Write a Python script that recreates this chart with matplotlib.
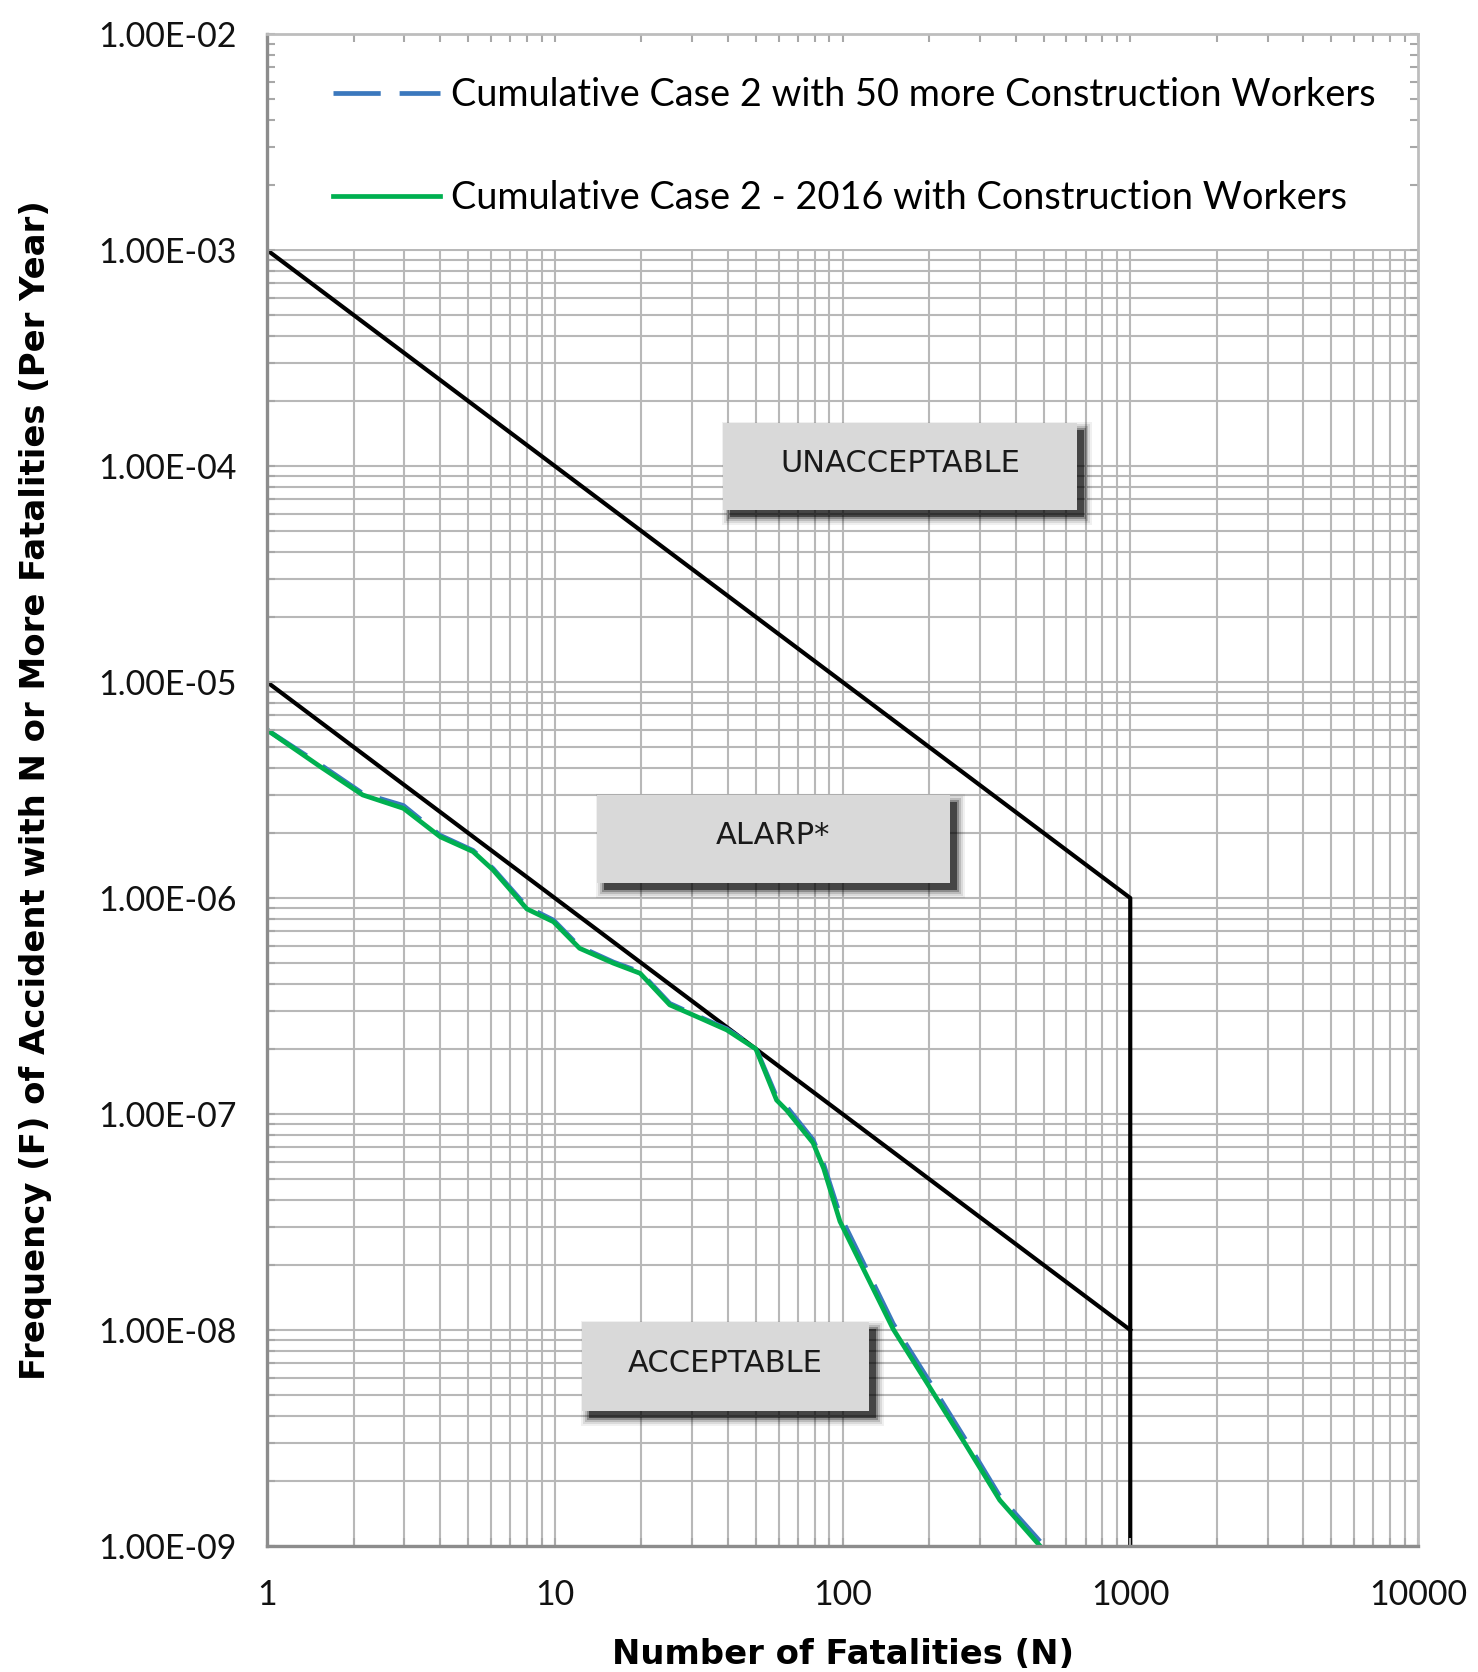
import matplotlib.pyplot as plt
from matplotlib.patches import Rectangle
from matplotlib.ticker import FuncFormatter, LogLocator, NullFormatter

# F-N curve data
n_case = [1, 1.53, 2.15, 2.98, 4.0, 5.2, 6.1, 8.0, 9.9, 12.2, 16, 19.8, 25.1, 30.3,
          39.6, 50, 59, 64, 79, 86, 98, 121, 150, 207, 270, 352, 486]
f_2016 = [6.0e-6, 4.06e-6, 3.0e-6, 2.6e-6, 1.92e-6, 1.64e-6, 1.35e-6, 8.9e-7, 7.76e-7,
          5.85e-7, 4.99e-7, 4.48e-7, 3.2e-7, 2.87e-7, 2.45e-7, 2.0e-7, 1.16e-7, 1.04e-7,
          7.35e-8, 5.6e-8, 3.18e-8, 1.80e-8, 1.01e-8, 5.1e-9, 2.9e-9, 1.63e-9, 1.0e-9]
f_50more = [6.0e-6, 4.15e-6, 3.05e-6, 2.68e-6, 1.95e-6, 1.66e-6, 1.37e-6, 9.1e-7, 7.9e-7,
            5.95e-7, 5.05e-7, 4.55e-7, 3.25e-7, 2.9e-7, 2.48e-7, 2.02e-7, 1.2e-7, 1.08e-7,
            7.6e-8, 5.85e-8, 3.4e-8, 1.92e-8, 1.07e-8, 5.4e-9, 3.05e-9, 1.7e-9, 1.05e-9]

# criteria lines
upper_n = [1, 1000, 1000]
upper_f = [1e-3, 1e-6, 1e-9]
lower_n = [1, 1000]
lower_f = [1e-5, 1e-8]

region_labels = ['UNACCEPTABLE', 'ALARP*', 'ACCEPTABLE']
x_ticks = [1, 10, 100, 1000, 10000]
y_ticks = [1e-9, 1e-8, 1e-7, 1e-6, 1e-5, 1e-4, 1e-3, 1e-2]

fig = plt.figure(figsize=(14.78, 16.72), dpi=100)
rect = [267 / 1478, 1 - 1546 / 1672, 1151 / 1478, 1512 / 1672]
ax = fig.add_axes(rect)
ax.set_xscale('log')
ax.set_yscale('log')
ax.set_xlim(1, 1e4)
ax.set_ylim(1e-9, 1e-2)
ax.set_axisbelow(True)
ax.grid(which='both', color='#b8b8b8', lw=1.5)
ax.xaxis.set_major_locator(LogLocator(base=10, numticks=20))
ax.xaxis.set_minor_locator(LogLocator(base=10, subs=range(2, 10), numticks=100))
ax.yaxis.set_major_locator(LogLocator(base=10, numticks=20))
ax.yaxis.set_minor_locator(LogLocator(base=10, subs=range(2, 10), numticks=100))
ax.set_xticks(x_ticks)
ax.set_yticks(y_ticks)
ax.xaxis.set_major_formatter(FuncFormatter(lambda v, p: f'{int(round(v))}'))
ax.yaxis.set_major_formatter(FuncFormatter(lambda v, p: f'{v:.2E}'))
ax.xaxis.set_minor_formatter(NullFormatter())
ax.yaxis.set_minor_formatter(NullFormatter())
ax.tick_params(which='both', length=0)
ax.tick_params(axis='y', pad=22, labelsize=24.5, labelcolor='#111111')
ax.tick_params(axis='x', pad=24, labelsize=24.5, labelcolor='#111111')
for lab in ax.get_xticklabels() + ax.get_yticklabels():
    lab.set_family('Lato')
for s in ax.spines.values():
    s.set_visible(False)

ax.set_xlabel('Number of Fatalities (N)', fontsize=24.4, fontweight='bold',
              family='DejaVu Sans', labelpad=19)
ax.set_ylabel('Frequency (F) of Accident with N or More Fatalities (Per Year)',
              fontsize=24.4, fontweight='bold', family='DejaVu Sans', labelpad=33)

# white legend area at the top
ax.add_patch(Rectangle((0, 0.858), 1, 0.142, transform=ax.transAxes,
                       facecolor='white', edgecolor='none', zorder=1))

ax.plot(upper_n, upper_f, color='black', lw=3.0, zorder=3)
ax.plot(lower_n, lower_f, color='black', lw=3.0, zorder=3)
blue, = ax.plot(n_case, f_50more, color='#3b78bd', lw=3.4, dashes=(10, 4), zorder=4,
                label='Cumulative Case 2 with 50 more Construction Workers')
green, = ax.plot(n_case, f_2016, color='#00b050', lw=3.4, zorder=5,
                 label='Cumulative Case 2 - 2016 with Construction Workers')

leg = ax.legend(handles=[blue, green], loc='center left', bbox_to_anchor=(0.0577, 0.9255),
                frameon=False, prop={'family': 'Lato', 'size': 27.3},
                handlelength=2.8, handletextpad=0.3, labelspacing=1.77,
                borderpad=0, borderaxespad=0)
leg.set_zorder(6)

# region boxes with drop shadows (axes fractions)
boxes = [(0.396, 0.685, 0.308, 0.058),
         (0.287, 0.4385, 0.306, 0.0585),
         (0.274, 0.0893, 0.249, 0.0589)]
pxw, pxh = 1151.0, 1512.0
for (x0, y0, w, h), txt in zip(boxes, region_labels):
    ox, oy = 7 / pxw, 7 / pxh
    for k, a in [(8, 0.06), (6, 0.09), (4, 0.14), (2, 0.25), (0, 0.5)]:
        gx, gy = k / pxw, k / pxh
        ax.add_patch(Rectangle((x0 + ox - gx, y0 - oy - gy), w + 2 * gx, h + 2 * gy,
                               transform=ax.transAxes, facecolor='black',
                               edgecolor='none', alpha=a, zorder=7))
    ax.add_patch(Rectangle((x0, y0), w, h, transform=ax.transAxes,
                           facecolor='#d9d9d9', edgecolor='none', zorder=8))
    ax.text(x0 + w / 2, y0 + h / 2 + 0.002, txt, transform=ax.transAxes,
            ha='center', va='center', fontsize=22, color='#1a1a1a',
            family='DejaVu Sans', zorder=9)

# overlay axes for frame and inward ticks
ax2 = fig.add_axes(rect, sharex=ax, sharey=ax)
ax2.patch.set_visible(False)
ax2.tick_params(which='both', direction='in', length=6, width=1.5, color='#a8a8a8',
                top=True, right=True, labelleft=False, labelbottom=False)
for side in ['left', 'bottom']:
    ax2.spines[side].set_color('#8c8c8c')
    ax2.spines[side].set_linewidth(2.4)
for side in ['top', 'right']:
    ax2.spines[side].set_color('#bdbdbd')
    ax2.spines[side].set_linewidth(2)

fig.savefig('out.png', dpi=100)
